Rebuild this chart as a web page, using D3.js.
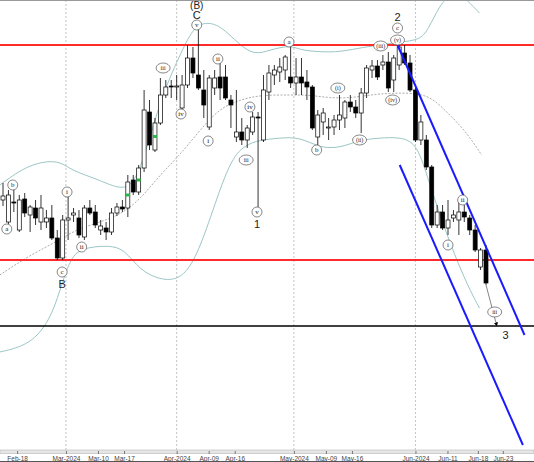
<!DOCTYPE html>
<html>
<head>
<meta charset="utf-8">
<script src="https://cdn.jsdelivr.net/npm/d3@7"></script>
<style>
  body { margin: 0; background: #fff; }
  svg { display: block; font-family: "Liberation Sans", Arial, sans-serif; }
</style>
</head>
<body>
<svg id="chart" width="534" height="462"></svg>
<script>
// daily candles, oldest first (price units)
var opens  = [300,278,298,270,301,285,292,278,278,282,262,242,280,285,282,263,292,288,270,272,268,287,293,292,320,308,332,388,350,377,405,414,414,392,415,442,425,410,373,412,423,423,400,363,368,360,368,383,360,408,425,428,430,423,417,423,418,413,363,378,372,373,380,382,398,393,387,407,430,434,435,438,420,435,447,437,410,360,360,333,275,288,272,282,280,288,282,270,233,250];
var highs  = [317,310,312,305,307,295,300,305,290,295,270,285,305,292,290,295,300,295,280,278,292,297,300,325,325,335,410,400,382,422,420,420,425,425,455,453,477,430,425,430,438,435,405,410,382,375,388,388,425,435,435,442,445,455,442,442,430,415,390,392,382,385,405,400,405,400,412,435,440,440,445,448,445,455,455,445,412,385,365,335,295,295,300,290,300,295,285,275,252,255];
var lows   = [294,270,288,268,283,268,275,270,272,260,240,240,260,278,262,260,285,272,265,260,265,284,288,283,305,305,328,350,348,375,402,402,400,390,412,422,410,382,370,405,400,400,372,358,355,352,365,293,358,400,415,418,420,412,405,405,400,370,355,365,360,365,370,372,388,382,367,402,422,420,430,408,408,430,435,408,358,355,330,272,272,270,265,278,265,278,265,248,230,215];
var closes = [304,305,297,300,287,293,282,292,282,262,242,280,282,287,265,292,287,275,274,268,287,293,291,318,308,332,390,355,377,405,413,413,414,415,442,427,412,395,422,422,412,402,395,368,360,372,383,382,410,427,430,433,443,417,423,417,413,372,385,387,373,380,385,398,393,387,407,432,434,423,438,412,442,453,437,410,360,378,333,275,288,272,280,285,288,283,270,250,250,217];
var greenDots = [23, 25, 28];

// bollinger bands: [bar index, price]
var upperBand = [[-0.6,315],[5,337],[10.5,340],[12.3,330],[17.9,320],[22.5,308],[25.2,325],[28.9,400],[32.6,445],[35,472],[37.2,478],[40,475],[43.6,455],[46.4,445],[49.2,450],[52.9,455],[54.7,450],[58.4,448],[62.1,448],[66.7,453],[69.4,455],[73.1,458],[76.8,460],[78.3,470],[80.5,495],[82,503],[83.8,508],[85.5,500],[87.8,487]];
var middleBand = [[-0.6,225],[5,245],[10.5,260],[13.3,270],[17.9,278],[21.5,285],[25.2,300],[28.9,325],[32.6,345],[36.3,370],[40,392],[43.6,400],[47.3,405],[52.9,405],[56.5,405],[60.2,402],[63.9,402],[67.6,405],[71.3,407],[76.8,407],[79.6,400],[82.3,385],[85.1,370],[88.2,345]];
var lowerBand = [[-0.6,148],[5,155],[8.7,180],[10.5,210],[12.3,240],[14.2,252],[19.7,255],[22.5,250],[25.2,230],[28.9,220],[32.6,220],[35.4,240],[38.1,280],[41.8,340],[44.6,355],[47.3,360],[51,362],[54.7,363],[58.4,352],[62.1,352],[65.7,360],[69.4,362],[73.1,363],[76.2,357],[78.1,325],[80.5,285],[83.2,245],[86,210],[87.8,192]];

var redLevels = [455, 240];
var blackLevel = 174;
var channelUpper = [[72.7,455],[96.1,165]];
var channelLower = [[73.1,335],[95.8,55]];
var arrowPath = [[89,215],[91,174]];

var tickPos    = [2.6, 11.6, 17.5, 22.3, 32.0, 37.9, 42.7, 53.6, 59.5, 64.3, 76.0, 81.9, 87.5, 92.1];
var tickLabels = ["Feb-18","Mar-2024","Mar-10","Mar-17","Apr-2024","Apr-09","Apr-16","May-2024","May-09","May-16","Jun-2024","Jun-11","Jun-18","Jun-23"];
var monthTicks = [11.6, 32.0, 53.6, 76.0];

// wave labels: [bar index, price, text, circled]
var waveLabels = [
  [0.7,271,"a",1],[1.8,315,"b",1],[11.8,308,"i",1],[10.9,228,"c",1],[10.9,216,"B",0],
  [14.5,253,"ii",1],[29.5,432,"iii",1],[32.8,386,"iv",1],[35.7,475,"v",1],[35.7,485,"C",0],[35.7,495.5,"(B)",0],
  [37.8,359,"i",1],[39.6,441,"ii",1],[44.8,340,"iii",1],[45.5,393,"iv",1],[46.8,288,"v",1],[46.8,276,"1",0],
  [52.7,458,"a",1],[57.8,350,"b",1],[61.7,412,"(i)",1],[65.7,360,"(ii)",1],[69.6,454,"(iii)",1],[71.8,400,"(iv)",1],
  [72.7,460,"(v)",1],[72.7,472,"c",1],[72.7,483,"2",0],
  [82,255,"i",1],[84.7,300,"ii",1],[90.6,188,"iii",1],[92.6,165,"3",0]
];

var svg = d3.select("#chart");
var x = d3.scaleLinear().domain([0, 89]).range([3, 486]);
var y = d3.scaleLinear().domain([0, 500]).range([500, 0]);
var plotBottom = 450;

var plot = svg.append("g");
svg.append("defs").append("clipPath").attr("id", "clip")
  .append("rect").attr("x", 0).attr("y", 1).attr("width", 534).attr("height", plotBottom - 1);
plot.attr("clip-path", "url(#clip)");

// top frame line
svg.append("line").attr("x1", 0).attr("x2", 534).attr("y1", 0.5).attr("y2", 0.5).attr("stroke", "#999");

// month grid lines
plot.selectAll(".grid").data(monthTicks).enter().append("line")
  .attr("x1", d => x(d)).attr("x2", d => x(d)).attr("y1", 0).attr("y2", plotBottom)
  .attr("stroke", "#aaa").attr("stroke-dasharray", "2,2").attr("stroke-width", 0.7);

// bands
var line = d3.line().x(d => x(d[0])).y(d => y(d[1])).curve(d3.curveBasis);
[upperBand, lowerBand].forEach(b => {
  plot.append("path").attr("d", line(b)).attr("fill", "none").attr("stroke", "#9cc6c6").attr("stroke-width", 1);
});
plot.append("path").attr("d", line(middleBand)).attr("fill", "none")
  .attr("stroke", "#888").attr("stroke-width", 0.7).attr("stroke-dasharray", "2,1.5");

// horizontal levels
plot.selectAll(".red").data(redLevels).enter().append("line")
  .attr("x1", 0).attr("x2", 534).attr("y1", d => y(d)).attr("y2", d => y(d))
  .attr("stroke", "#ff2a2a").attr("stroke-width", 2);
plot.append("line").attr("x1", 0).attr("x2", 534).attr("y1", y(blackLevel)).attr("y2", y(blackLevel))
  .attr("stroke", "#000").attr("stroke-width", 1.5);

// candles
var candles = plot.selectAll(".c").data(opens.map((o, i) => ({i: i, o: o, h: highs[i], l: lows[i], c: closes[i]})))
  .enter().append("g");
candles.append("line").attr("x1", d => x(d.i)).attr("x2", d => x(d.i))
  .attr("y1", d => y(d.h)).attr("y2", d => y(d.l)).attr("stroke", "#000").attr("stroke-width", 0.8);
candles.append("rect")
  .attr("x", d => x(d.i) - 2).attr("width", 4)
  .attr("y", d => y(Math.max(d.o, d.c)))
  .attr("height", d => Math.max(1, Math.abs(y(d.o) - y(d.c))))
  .attr("fill", d => d.c >= d.o ? "#fff" : "#000")
  .attr("stroke", "#000").attr("stroke-width", 0.7);

plot.selectAll(".g").data(greenDots).enter().append("rect")
  .attr("x", d => x(d) - 2).attr("y", d => y((opens[d] + closes[d]) / 2) - 1.5)
  .attr("width", 4).attr("height", 3).attr("fill", "#2db84a");

// channel
[channelUpper, channelLower].forEach(c => {
  plot.append("line").attr("x1", x(c[0][0])).attr("y1", y(c[0][1]))
    .attr("x2", x(c[1][0])).attr("y2", y(c[1][1]))
    .attr("stroke", "#1a1aff").attr("stroke-width", 2);
});

// projection arrow
svg.append("defs").append("marker").attr("id", "arr").attr("viewBox", "0 0 10 10")
  .attr("refX", 9).attr("refY", 5).attr("markerWidth", 5).attr("markerHeight", 5).attr("orient", "auto")
  .append("path").attr("d", "M0,0L10,5L0,10z").attr("fill", "#000");
plot.append("line").attr("x1", x(arrowPath[0][0])).attr("y1", y(arrowPath[0][1]))
  .attr("x2", x(arrowPath[1][0])).attr("y2", y(arrowPath[1][1]))
  .attr("stroke", "#666").attr("stroke-width", 0.8).attr("marker-end", "url(#arr)");

// wave labels
var lab = svg.selectAll(".w").data(waveLabels).enter().append("g")
  .attr("transform", d => `translate(${x(d[0])},${y(d[1])})`);
lab.filter(d => d[3]).append("ellipse")
  .attr("rx", d => d[2].length > 2 ? 7 : 5).attr("ry", 5)
  .attr("fill", "#fff").attr("stroke", "#555").attr("stroke-width", 0.7);
lab.append("text").text(d => d[2])
  .attr("text-anchor", "middle").attr("dy", d => d[3] ? 2.3 : 4)
  .attr("font-family", d => d[3] ? "'Liberation Serif', serif" : "'Liberation Sans', sans-serif")
  .attr("font-size", d => d[3] ? (d[2].length > 2 ? 6 : 7) : (d[2] === "(B)" ? 10 : 11))
  .attr("fill", "#222");

// x axis
svg.append("rect").attr("x", 0).attr("y", plotBottom).attr("width", 534).attr("height", 3.5)
  .attr("fill", "#e6e6e6").attr("stroke", "#aaa").attr("stroke-width", 0.5);
var axis = d3.axisBottom(x).tickValues(tickPos).tickFormat((d, i) => tickLabels[i]).tickSize(3);
var ax = svg.append("g").attr("transform", `translate(0,${plotBottom + 1})`).call(axis);
ax.select(".domain").remove();
ax.selectAll("line").attr("stroke", "#777");
ax.selectAll("text").attr("font-size", 6.5).attr("fill", "#444").attr("dy", "0.55em");
svg.append("line").attr("x1", 0).attr("x2", 534).attr("y1", 461.5).attr("y2", 461.5).attr("stroke", "#555");
</script>
</body>
</html>
